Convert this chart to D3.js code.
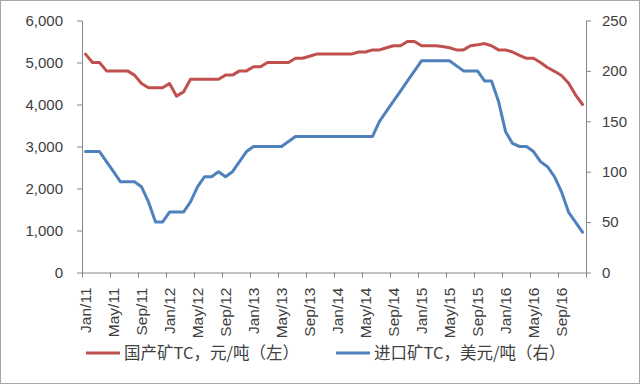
<!DOCTYPE html>
<html>
<head>
<meta charset="utf-8">
<script src="https://cdn.jsdelivr.net/npm/d3@7"></script>
<style>
  html, body { margin: 0; padding: 0; background: #fff; }
  svg { display: block; }
  text { font-family: "Liberation Sans", Arial, sans-serif; fill: #404040; }
</style>
</head>
<body>
<svg id="chart" width="640" height="384"></svg>
<script>
const months = [
  "Jan/11","Feb/11","Mar/11","Apr/11","May/11","Jun/11","Jul/11","Aug/11","Sep/11","Oct/11","Nov/11","Dec/11",
  "Jan/12","Feb/12","Mar/12","Apr/12","May/12","Jun/12","Jul/12","Aug/12","Sep/12","Oct/12","Nov/12","Dec/12",
  "Jan/13","Feb/13","Mar/13","Apr/13","May/13","Jun/13","Jul/13","Aug/13","Sep/13","Oct/13","Nov/13","Dec/13",
  "Jan/14","Feb/14","Mar/14","Apr/14","May/14","Jun/14","Jul/14","Aug/14","Sep/14","Oct/14","Nov/14","Dec/14",
  "Jan/15","Feb/15","Mar/15","Apr/15","May/15","Jun/15","Jul/15","Aug/15","Sep/15","Oct/15","Nov/15","Dec/15",
  "Jan/16","Feb/16","Mar/16","Apr/16","May/16","Jun/16","Jul/16","Aug/16","Sep/16","Oct/16","Nov/16","Dec/16"
];
// 国产矿TC，元/吨（左）
const domesticTC = [
  5200,5000,5000,4800,4800,4800,4800,4700,4500,4400,4400,4400,
  4500,4200,4300,4600,4600,4600,4600,4600,4700,4700,4800,4800,
  4900,4900,5000,5000,5000,5000,5100,5100,5150,5200,5200,5200,
  5200,5200,5200,5250,5250,5300,5300,5350,5400,5400,5500,5500,
  5400,5400,5400,5380,5350,5300,5300,5400,5420,5450,5400,5300,
  5300,5250,5170,5100,5100,5000,4880,4790,4690,4510,4230,4000
];
// 进口矿TC，美元/吨（右）
const importTC = [
  120,120,120,110,100,90,90,90,85,70,50,50,
  60,60,60,70,85,95,95,100,95,100,110,120,
  125,125,125,125,125,130,135,135,135,135,135,135,
  135,135,135,135,135,135,150,160,170,180,190,200,
  210,210,210,210,210,205,200,200,200,190,190,170,
  140,128,125,125,120,110,105,95,80,60,50,40
];
const leftTicks = [0,1000,2000,3000,4000,5000,6000];
const rightTicks = [0,50,100,150,200,250];
const labelEvery = 4;
const seriesNames = ["国产矿TC，元/吨（左）", "进口矿TC，美元/吨（右）"];
const seriesColors = ["#C0504D", "#4F81BD"];

const svg = d3.select("#chart");
const L = 82, R = 586, T = 20.5, B = 272.5;
const axisColor = "#868686";

// outer border
svg.append("rect").attr("x",0.5).attr("y",0.5).attr("width",639).attr("height",383)
  .attr("fill","#fff").attr("stroke","#a6a6a6");

const x = d3.scaleBand().domain(months).range([L, R]).padding(0);
const xi = d3.scaleLinear().domain([0, months.length]).range([L, R]);
const yL = d3.scaleLinear().domain([0, 6000]).range([B, T]);
const yR = d3.scaleLinear().domain([0, 250]).range([B, T]);

function styleAxis(g) {
  g.selectAll("path.domain").attr("stroke", axisColor);
  g.selectAll(".tick line").attr("stroke", axisColor);
  g.selectAll("text").style("font-family", '"Liberation Sans", Arial, sans-serif')
    .style("font-size", "15px").attr("fill", "#404040");
}

// left axis
const gL = svg.append("g").attr("transform", `translate(${L},0)`)
  .call(d3.axisLeft(yL).tickValues(leftTicks).tickFormat(d3.format(",")).tickSize(5).tickSizeOuter(0).tickPadding(14));
styleAxis(gL);

// right axis
const gR = svg.append("g").attr("transform", `translate(${R},0)`)
  .call(d3.axisRight(yR).tickValues(rightTicks).tickSize(5).tickSizeOuter(0).tickPadding(11));
styleAxis(gR);

// bottom tick marks (between categories)
const gBt = svg.append("g").attr("transform", `translate(0,${B})`)
  .call(d3.axisBottom(xi).tickValues(d3.range(0, months.length + 1, labelEvery)).tickFormat("").tickSize(5).tickSizeOuter(0));
styleAxis(gBt);

// bottom labels (centered on categories)
const labelVals = months.filter((m, i) => i % labelEvery === 0);
const gBl = svg.append("g").attr("transform", `translate(0,${B})`)
  .call(d3.axisBottom(x).tickValues(labelVals).tickSize(0).tickSizeOuter(0));
gBl.select("path.domain").remove();
styleAxis(gBl);
gBl.selectAll("text")
  .style("font-size", "15.5px")
  .attr("transform", "rotate(-90)")
  .attr("text-anchor", "end")
  .attr("x", -15).attr("y", 0).attr("dy", "0.36em");

// lines
const lineL = d3.line().x((d, i) => x(months[i]) + x.bandwidth() / 2).y(d => yL(d));
const lineR = d3.line().x((d, i) => x(months[i]) + x.bandwidth() / 2).y(d => yR(d));

svg.append("path").datum(domesticTC).attr("d", lineL)
  .attr("fill", "none").attr("stroke", seriesColors[0]).attr("stroke-width", 3)
  .attr("stroke-linejoin", "round").attr("stroke-linecap", "round");
svg.append("path").datum(importTC).attr("d", lineR)
  .attr("fill", "none").attr("stroke", seriesColors[1]).attr("stroke-width", 3)
  .attr("stroke-linejoin", "round").attr("stroke-linecap", "round");

// legend
const legendItems = [
  { name: seriesNames[0], color: seriesColors[0], x: 86 },
  { name: seriesNames[1], color: seriesColors[1], x: 336 }
];
const lg = svg.append("g");
legendItems.forEach(it => {
  lg.append("line").attr("x1", it.x).attr("x2", it.x + 34).attr("y1", 353).attr("y2", 353)
    .attr("stroke", it.color).attr("stroke-width", 3);
  lg.append("text").attr("x", it.x + 38).attr("y", 353).attr("dy", "0.35em")
    .style("font-family", '"Noto Sans CJK SC", "Liberation Sans", sans-serif')
    .style("font-size", "16.5px").attr("fill", "#404040").text(it.name);
});
</script>
</body>
</html>
